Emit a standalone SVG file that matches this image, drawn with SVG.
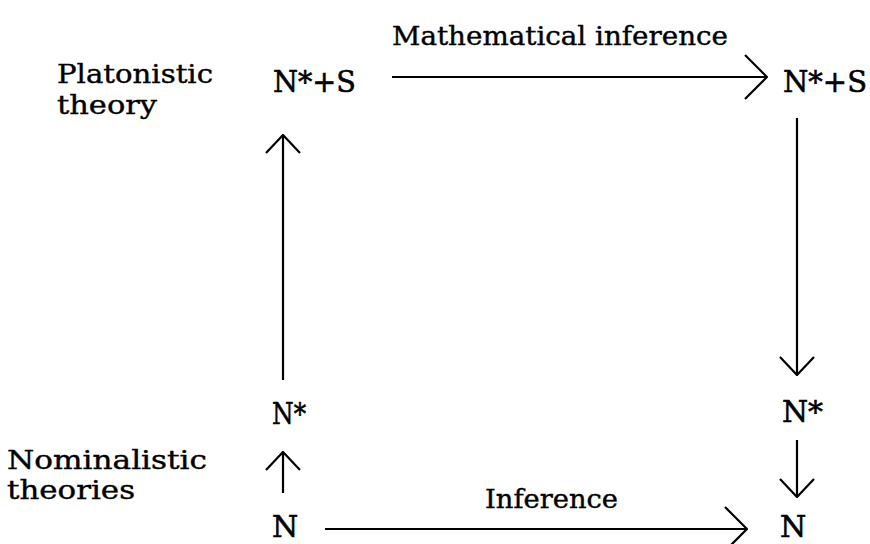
<svg xmlns="http://www.w3.org/2000/svg" width="870" height="544" viewBox="0 0 870 544">
<defs>
<style>
.t{font-family:"DejaVu Serif","Liberation Serif",serif;fill:#000;stroke:#000;stroke-width:0.4;font-size:26px}
.n{font-family:"DejaVu Serif","Liberation Serif",serif;fill:#000;stroke:#000;stroke-width:0.6;font-size:30px}
.c{stroke:#000;stroke-width:2.2;fill:none}
</style>
<marker id="ah" viewBox="0 0 20 40" refX="19" refY="20" markerWidth="20" markerHeight="40" markerUnits="userSpaceOnUse" orient="auto">
<path d="M1,3 L19,20 L1,37" fill="none" stroke="#000" stroke-width="2.2"/>
</marker>
<marker id="ahl" viewBox="0 0 24 48" refX="23" refY="24" markerWidth="24" markerHeight="48" markerUnits="userSpaceOnUse" orient="auto">
<path d="M1,2 L23,24 L1,46" fill="none" stroke="#000" stroke-width="2.2"/>
</marker>
</defs>
<rect width="870" height="544" fill="#fff"/>
<g id="labels">
<text class="t" x="392" y="45" textLength="336" lengthAdjust="spacingAndGlyphs">Mathematical inference</text>
<text class="t" x="57" y="83" textLength="156" lengthAdjust="spacingAndGlyphs">Platonistic</text>
<text class="t" x="57" y="114" textLength="100" lengthAdjust="spacingAndGlyphs">theory</text>
<text class="t" x="7" y="469" textLength="200" lengthAdjust="spacingAndGlyphs">Nominalistic</text>
<text class="t" x="7" y="499" textLength="128" lengthAdjust="spacingAndGlyphs">theories</text>
<text class="t" x="485" y="508" textLength="133" lengthAdjust="spacingAndGlyphs">Inference</text>
</g>
<g id="node-NS-left"><text class="n" x="273" y="92" textLength="83" lengthAdjust="spacingAndGlyphs">N*+S</text></g>
<g id="node-NS-right"><text class="n" x="783" y="92" textLength="84" lengthAdjust="spacingAndGlyphs">N*+S</text></g>
<g id="node-Nstar-left"><text class="n" x="272" y="424" textLength="34" lengthAdjust="spacingAndGlyphs">N*</text></g>
<g id="node-Nstar-right"><text class="n" x="782" y="422" textLength="41" lengthAdjust="spacingAndGlyphs">N*</text></g>
<g id="node-N-left"><text class="n" x="272" y="537">N</text></g>
<g id="node-N-right"><text class="n" x="780" y="537">N</text></g>
<g id="connectors">
<line class="c" x1="392" y1="77" x2="767" y2="77" marker-end="url(#ahl)"/>
<line class="c" x1="797" y1="118" x2="797" y2="375" marker-end="url(#ah)"/>
<line class="c" x1="283" y1="380" x2="283" y2="135" marker-end="url(#ah)"/>
<line class="c" x1="283" y1="493" x2="283" y2="452" marker-end="url(#ah)"/>
<line class="c" x1="797" y1="440" x2="797" y2="497" marker-end="url(#ah)"/>
<line class="c" x1="325" y1="529" x2="747" y2="529" marker-end="url(#ahl)"/>
</g>
</svg>
